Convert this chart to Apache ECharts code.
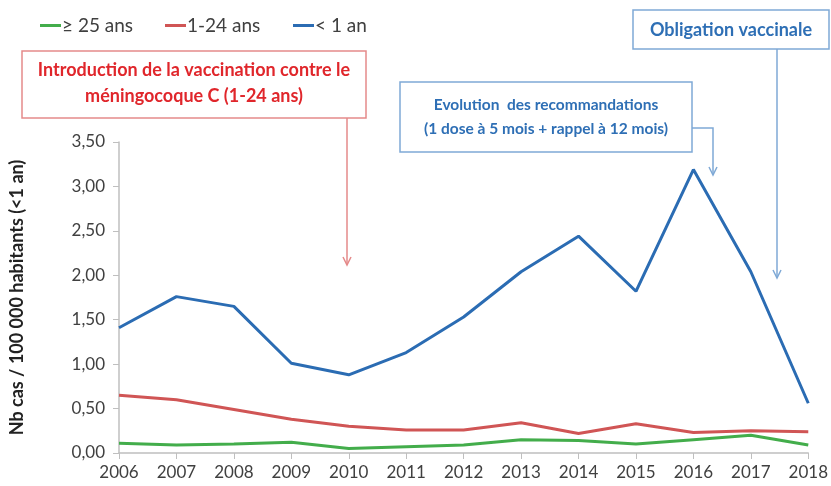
<!DOCTYPE html>
<html>
<head>
<meta charset="utf-8">
<script src="https://cdn.jsdelivr.net/npm/echarts@6/dist/echarts.min.js"></script>
<style>
  html,body{margin:0;padding:0;background:#fff;}
  #chartmain{width:831px;height:486px;}
</style>
</head>
<body>
<div id="chartmain"></div>
<script>
// années
var years = ['2006','2007','2008','2009','2010','2011','2012','2013','2014','2015','2016','2017','2018'];
// taux pour 100 000 habitants
var moinsUnAn = [1.41, 1.76, 1.65, 1.01, 0.88, 1.13, 1.53, 2.04, 2.44, 1.82, 3.19, 2.04, 0.56];
var unAVingtQuatre = [0.65, 0.60, 0.49, 0.38, 0.30, 0.26, 0.26, 0.34, 0.22, 0.33, 0.23, 0.25, 0.24];
var plusVingtCinq = [0.11, 0.09, 0.10, 0.12, 0.05, 0.07, 0.09, 0.15, 0.14, 0.10, 0.15, 0.20, 0.09];
var seriesNames = ['≥ 25 ans', '1-24 ans', '< 1 an'];

var police = 'Lato, "Open Sans", sans-serif';
var gris = '#404040';
var bleu = '#2b6cb3', rouge = '#d05555', vert = '#43ad4b';

var myChart = echarts.init(document.getElementById('chartmain'));

function legendItem(name, left){
    return {
        left: left, top: 11,
        data: [name],
        icon: 'rect', itemWidth: 21, itemHeight: 3, itemGap: 0,
        textStyle: {fontFamily: police, fontSize: 19, color: gris, padding: [0,0,0,-4]},
        selectedMode: false
    };
}

function fleche(x1, y1, x2, y2, color){
    return {
        type: 'group',
        children: [
            {type:'line', shape:{x1:x1,y1:y1,x2:x2,y2:y2}, style:{stroke:color, lineWidth:1.5}},
            {type:'polyline', shape:{points:[[x2-4,y2-8],[x2,y2],[x2+4,y2-8]]}, style:{stroke:color, lineWidth:1.5, fill:null}}
        ]
    };
}

var option = {
    animation: false,
    legend: [legendItem(seriesNames[0], 35), legendItem(seriesNames[1], 160), legendItem(seriesNames[2], 288)],
    grid: {left: 118, right: 18, top: 142, bottom: 33},
    xAxis: {
        type: 'category',
        data: years,
        boundaryGap: false,
        axisLine: {lineStyle: {color: '#bfbfbf', width: 1.5}},
        axisTick: {show: true, length: 6, lineStyle: {color: '#bfbfbf'}},
        axisLabel: {fontFamily: police, fontSize: 17, color: gris, margin: 11}
    },
    yAxis: {
        type: 'value',
        min: 0, max: 3.5, interval: 0.5,
        name: 'Nb cas / 100 000 habitants (<1 an)',
        nameLocation: 'middle',
        nameGap: 93,
        nameTextStyle: {fontFamily: police, fontSize: 18, fontWeight: 'bold', color: '#222', padding: [0, 0, 0, 0]},
        axisLine: {show: true, lineStyle: {color: '#bfbfbf', width: 1.5}},
        axisTick: {show: true, length: 6, lineStyle: {color: '#bfbfbf'}},
        splitLine: {show: false},
        axisLabel: {
            fontFamily: police, fontSize: 17, color: gris, margin: 14,
            formatter: function(v){ return v.toFixed(2).replace('.', ','); }
        }
    },
    series: [
        {name: seriesNames[0], type: 'line', data: plusVingtCinq, symbol: 'none', color: vert, lineStyle: {width: 3, color: vert}},
        {name: seriesNames[1], type: 'line', data: unAVingtQuatre, symbol: 'none', color: rouge, lineStyle: {width: 3, color: rouge}},
        {name: seriesNames[2], type: 'line', data: moinsUnAn, symbol: 'none', color: bleu, lineStyle: {width: 3, color: bleu}}
    ],
    graphic: [
        // encadré rouge
        {type:'rect', shape:{x:22, y:51, width:344, height:67}, style:{fill:'#fff', stroke:'#e58a8a', lineWidth:1.5}},
        {type:'text', x:194, y:70, style:{text:'Introduction de la vaccination contre le', fill:'#e0262b', font:'bold 18px '+police, align:'center', verticalAlign:'middle'}},
        {type:'text', x:194, y:96, style:{text:'méningocoque C (1-24 ans)', fill:'#e0262b', font:'bold 18px '+police, align:'center', verticalAlign:'middle'}},
        fleche(347, 118, 347, 265, '#e58a8a'),
        // recommandations
        {type:'rect', shape:{x:400, y:82, width:292, height:70}, style:{fill:'#fff', stroke:'#7fa9d6', lineWidth:1.5}},
        {type:'text', x:546, y:105, style:{text:'Evolution  des recommandations', fill:'#2e6fb5', font:'bold 15.5px '+police, align:'center', verticalAlign:'middle'}},
        {type:'text', x:546, y:129, style:{text:'(1 dose à 5 mois + rappel à 12 mois)', fill:'#2e6fb5', font:'bold 15.5px '+police, align:'center', verticalAlign:'middle'}},
        {type:'polyline', shape:{points:[[692,128],[713,128],[713,175]]}, style:{stroke:'#7fa9d6', lineWidth:1.5, fill:null}},
        {type:'polyline', shape:{points:[[709,167],[713,175],[717,167]]}, style:{stroke:'#7fa9d6', lineWidth:1.5, fill:null}},
        // obligation
        {type:'rect', shape:{x:633, y:10, width:196, height:39}, style:{fill:'#fff', stroke:'#7fa9d6', lineWidth:1.5}},
        {type:'text', x:731, y:30, style:{text:'Obligation vaccinale', fill:'#2e6fb5', font:'bold 18px '+police, align:'center', verticalAlign:'middle'}},
        fleche(777, 49, 777, 278, '#7fa9d6')
    ]
};
myChart.setOption(option);
</script>
</body>
</html>
